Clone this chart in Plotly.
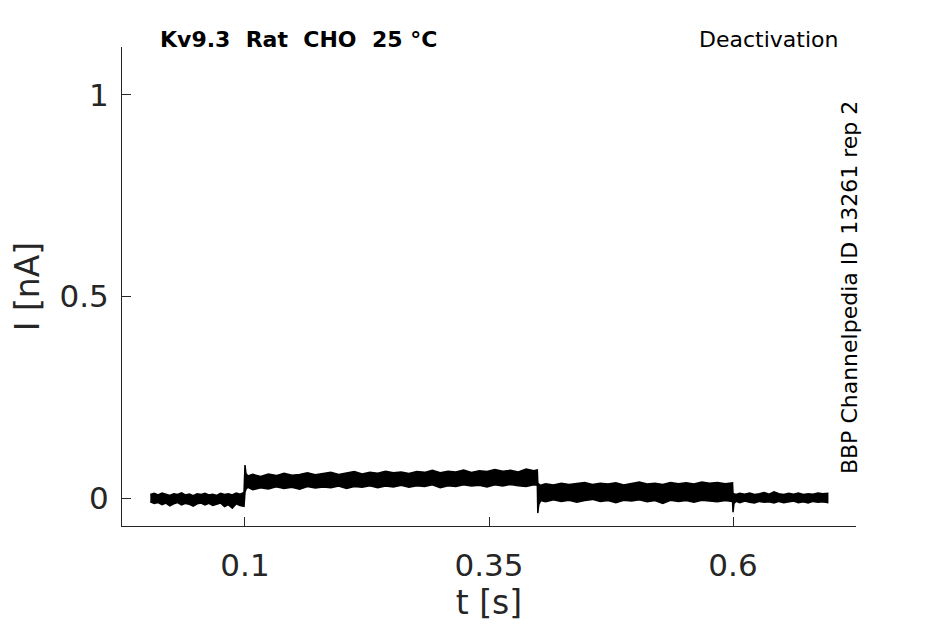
import plotly.graph_objects as go

t1 = [0.003, 0.007, 0.011, 0.015, 0.019, 0.023, 0.027, 0.031, 0.035, 0.039,
      0.043, 0.047, 0.051, 0.055, 0.059, 0.063, 0.067, 0.071, 0.075, 0.079,
      0.083, 0.087, 0.091, 0.095, 0.099]
top1 = [0.009, 0.012, 0.008, 0.013, 0.010, 0.007, 0.011, 0.009, 0.013, 0.008,
        0.010, 0.006, 0.011, 0.009, 0.012, 0.008, 0.010, 0.007, 0.012, 0.009,
        0.011, 0.008, 0.013, 0.010, 0.014]
bot1 = [-0.009, -0.013, -0.011, -0.016, -0.012, -0.019, -0.014, -0.011, -0.017, -0.013,
        -0.015, -0.020, -0.014, -0.012, -0.017, -0.013, -0.018, -0.015, -0.012, -0.021,
        -0.016, -0.025, -0.014, -0.018, -0.020]

t2 = [0.100, 0.101, 0.103, 0.108, 0.116, 0.124, 0.132, 0.140, 0.148, 0.156,
      0.164, 0.172, 0.180, 0.188, 0.196, 0.204, 0.212, 0.220, 0.228, 0.236,
      0.244, 0.252, 0.260, 0.268, 0.276, 0.284, 0.292, 0.300, 0.308, 0.316,
      0.324, 0.332, 0.340, 0.348, 0.356, 0.364, 0.372, 0.380, 0.388, 0.396,
      0.3995]
top2 = [0.082, 0.061, 0.055, 0.059, 0.054, 0.060, 0.056, 0.062, 0.057, 0.059,
        0.063, 0.058, 0.061, 0.064, 0.059, 0.062, 0.066, 0.060, 0.064, 0.062,
        0.067, 0.063, 0.065, 0.061, 0.066, 0.064, 0.069, 0.063, 0.067, 0.065,
        0.070, 0.064, 0.068, 0.066, 0.071, 0.067, 0.069, 0.065, 0.072, 0.068,
        0.070]
bot2 = [0.015, 0.022, 0.027, 0.021, 0.026, 0.023, 0.028, 0.024, 0.027, 0.022,
        0.029, 0.025, 0.028, 0.026, 0.030, 0.024, 0.029, 0.027, 0.031, 0.026,
        0.030, 0.028, 0.032, 0.027, 0.031, 0.029, 0.033, 0.026, 0.031, 0.029,
        0.033, 0.030, 0.032, 0.028, 0.033, 0.030, 0.034, 0.031, 0.029, 0.033,
        0.032]

t3 = [0.400, 0.401, 0.403, 0.408, 0.416, 0.424, 0.432, 0.440, 0.448, 0.456,
      0.464, 0.472, 0.480, 0.488, 0.496, 0.504, 0.512, 0.520, 0.528, 0.536,
      0.544, 0.552, 0.560, 0.568, 0.576, 0.584, 0.592, 0.5995]
top3 = [0.038, 0.035, 0.032, 0.036, 0.033, 0.037, 0.034, 0.036, 0.039, 0.034,
        0.037, 0.035, 0.038, 0.033, 0.036, 0.040, 0.035, 0.037, 0.034, 0.039,
        0.036, 0.038, 0.035, 0.040, 0.037, 0.039, 0.036, 0.038]
bot3 = [-0.037, -0.016, -0.006, -0.009, -0.004, -0.008, -0.005, -0.010, -0.006, -0.003,
        -0.008, -0.006, -0.011, -0.005, -0.007, -0.004, -0.009, -0.006, -0.013, -0.005,
        -0.008, -0.006, -0.010, -0.005, -0.007, -0.009, -0.006, -0.008]

t4 = [0.600, 0.601, 0.603, 0.607, 0.612, 0.617, 0.622, 0.627, 0.632, 0.637,
      0.642, 0.647, 0.652, 0.657, 0.662, 0.667, 0.672, 0.677, 0.682, 0.687,
      0.692, 0.697]
top4 = [0.012, 0.011, 0.009, 0.012, 0.010, 0.013, 0.009, 0.011, 0.014, 0.010,
        0.016, 0.011, 0.009, 0.012, 0.010, 0.013, 0.009, 0.011, 0.010, 0.013,
        0.011, 0.012]
bot4 = [-0.035, -0.013, -0.008, -0.011, -0.007, -0.010, -0.012, -0.008, -0.010, -0.009,
        -0.012, -0.008, -0.011, -0.009, -0.007, -0.011, -0.009, -0.012, -0.008, -0.010,
        -0.009, -0.011]

x_ticks = [0.1, 0.35, 0.6]
x_ticktext = ["0.1", "0.35", "0.6"]
y_ticks = [0, 0.5, 1]
y_ticktext = ["0", "0.5", "1"]

t_all = t1 + t2 + t3 + t4
top_all = top1 + top2 + top3 + top4
bot_all = bot1 + bot2 + bot3 + bot4

fig = go.Figure()
fig.add_trace(go.Scatter(
    x=t_all + t_all[::-1],
    y=top_all + bot_all[::-1],
    fill="toself", fillcolor="black",
    mode="lines", line=dict(color="black", width=1.5),
    hoverinfo="skip", showlegend=False))

axis_col = "#262626"
fig.update_layout(
    width=945, height=624,
    margin=dict(l=114, r=97, t=39, b=106),
    paper_bgcolor="white", plot_bgcolor="white",
    font=dict(family="DejaVu Sans", color=axis_col),
    showlegend=False,
    xaxis=dict(range=[-0.026, 0.726], tickvals=x_ticks, ticktext=x_ticktext,
               ticks="inside", ticklen=9, tickcolor=axis_col, tickwidth=1,
               showline=True, linecolor=axis_col, linewidth=1,
               showgrid=False, zeroline=False,
               tickfont=dict(size=31), ticklabelstandoff=12,
               title=dict(text="t [s]", font=dict(size=33), standoff=4)),
    yaxis=dict(range=[-0.069, 1.119], tickvals=y_ticks, ticktext=y_ticktext,
               ticks="inside", ticklen=9, tickcolor=axis_col, tickwidth=1,
               showline=True, linecolor=axis_col, linewidth=1,
               showgrid=False, zeroline=False,
               tickfont=dict(size=31), ticklabelstandoff=6,
               title=dict(text="I [nA]", font=dict(size=33), standoff=10)),
)

fig.add_annotation(text="<b>Kv9.3  Rat  CHO  25 °C</b>", xref="paper", yref="paper",
                   x=0.049, y=1.0, xanchor="left", yanchor="middle", yshift=8,
                   showarrow=False, font=dict(size=22, color="black"))
fig.add_annotation(text="Deactivation", xref="paper", yref="paper",
                   x=0.978, y=1.0, xanchor="right", yanchor="middle", yshift=8,
                   showarrow=False, font=dict(size=22, color="black"))
fig.add_annotation(text="BBP Channelpedia ID 13261 rep 2", xref="paper", yref="paper",
                   x=0.992, y=0.497, xanchor="center", yanchor="middle", textangle=-90,
                   showarrow=False, font=dict(size=22, color="black"))

fig.write_html("out.html")
